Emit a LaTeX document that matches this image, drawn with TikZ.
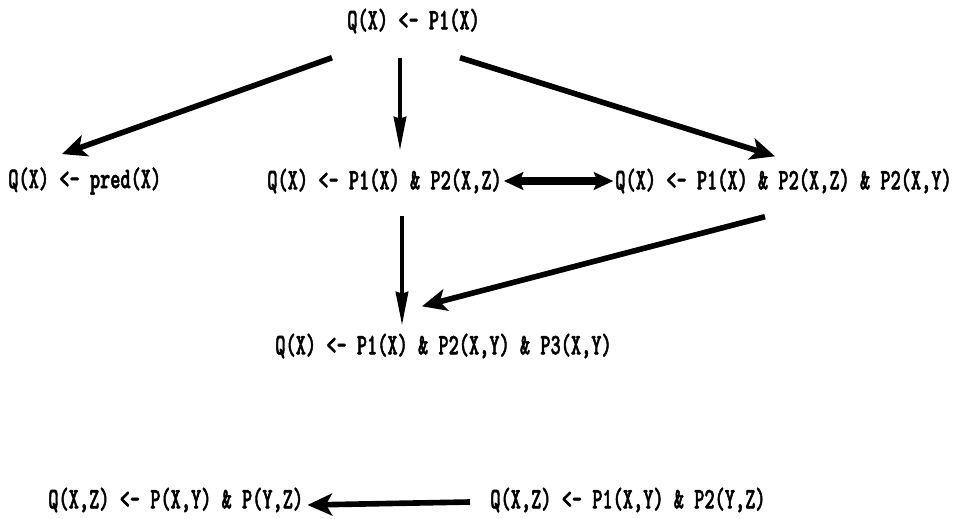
\documentclass[tikz,border=0pt]{standalone}
\usepackage{fontspec}
\usepackage{tikz}
\usetikzlibrary{calc}
\usetikzlibrary{arrows.meta}
\newfontfamily\rulefont{Latin Modern Mono Light}[FakeStretch=0.65, FakeBold=1.5]

\begin{document}
\begin{tikzpicture}[x=0.02cm, y=-0.02cm, line join = round,
        rule/.style={anchor=west, inner sep=0pt, font=\rulefont\bfseries\fontsize{17}{17}\selectfont},
        bigarrow/.style={line width=3.2pt, -{Stealth[length=14pt, width=12.5pt, inset=3.5pt]}},
        longarrow/.style={line width=2.2pt, -{Stealth[length=19pt, width=7pt, inset=1pt]}},
        bothways/.style={line width=4pt, {Stealth[length=11pt, width=10pt, inset=2pt]}-{Stealth[length=11pt, width=10pt, inset=2pt]}}]
        \useasboundingbox (0,0) rectangle (957,518);

        \node[rule] (Q0) at (347,21) {Q(X) <- P1(X)};
        \node[rule] (Qp) at (8,181) {Q(X) <- pred(X)};
        \node[rule] (Q1) at (267,181) {Q(X) <- P1(X) \& P2(X,Z)};
        \node[rule] (Q2) at (615,181) {Q(X) <- P1(X) \& P2(X,Z) \& P2(X,Y)};
        \node[rule] (Q3) at (275,346) {Q(X) <- P1(X) \& P2(X,Y) \& P3(X,Y)};
        \node[rule] (Qa) at (48,500) {Q(X,Z) <- P(X,Y) \& P(Y,Z)};
        \node[rule] (Qb) at (490,500) {Q(X,Z) <- P1(X,Y) \& P2(Y,Z)};

        \draw[bigarrow] ([shift={(-15,24)}]Q0.south west) -- ([shift={(54,-13)}]Qp.north west);
        \draw[longarrow] ([shift={(53,24)}]Q0.south west) -- ([shift={(133,-18)}]Q1.north west);
        \draw[bigarrow] ([shift={(113,24)}]Q0.south west) -- ([shift={(160,-12)}]Q2.north west);
        \draw[bothways] ([xshift=1pt]Q1.east) -- ([xshift=-1pt]Q2.west);
        \draw[longarrow] ([shift={(135,22)}]Q1.south west) -- ([shift={(127,-8)}]Q3.north west);
        \draw[bigarrow] ([shift={(150,23)}]Q2.south west) -- ([shift={(147,-27)}]Q3.north west);
        \draw[bigarrow] ([shift={(-20,2)}]Qb.west) -- ([shift={(4,5)}]Qa.east);
\end{tikzpicture}
\end{document}
